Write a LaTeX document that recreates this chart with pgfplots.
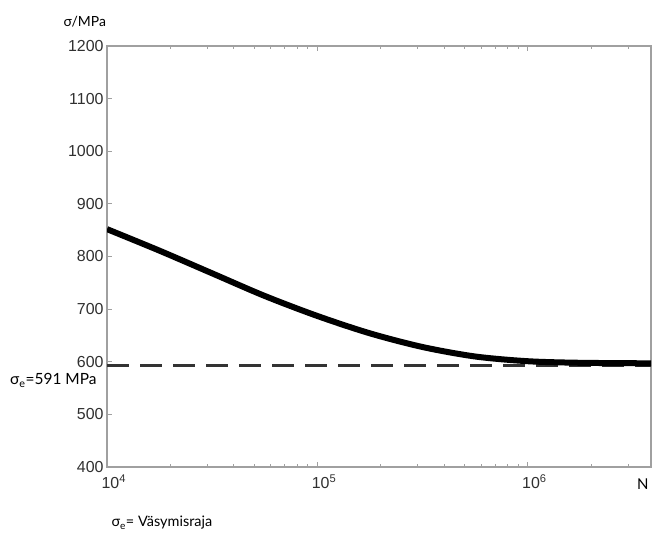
\documentclass[border=0pt]{standalone}
\usepackage{pgfplots}
\pgfplotsset{compat=1.18}
\usepackage{fontspec}
\setmainfont{Lato}
\newfontfamily\tickfont{Liberation Sans}
\definecolor{framegray}{HTML}{A0A0A0}
\definecolor{ticktext}{HTML}{303030}

\begin{document}
\begin{tikzpicture}
\begin{axis}[
  xmode=log, scale only axis, width=544bp, height=421bp,
  xmin=1e4, xmax=3.86e6, ymin=400, ymax=1200,
  ytick={400,500,...,1200},
  xtick={1e4,1e5,1e6},
  xticklabels={10\textsuperscript{4},10\textsuperscript{5},10\textsuperscript{6}},
  minor xtick={2e4,3e4,4e4,5e4,6e4,7e4,8e4,9e4,2e5,3e5,4e5,5e5,6e5,7e5,8e5,9e5,2e6,3e6},
  xtick pos=both, ytick pos=left, xticklabel pos=bottom,
  axis line style={framegray, line width=1.3bp},
  tick style={framegray, line width=0.8bp},
  major tick length=5bp, minor tick length=3bp,
  tick align=inside,
  ticklabel style={font=\tickfont\fontsize{16}{18}\selectfont, text=ticktext},
  yticklabel style={/pgf/number format/assume math mode=true, /pgf/number format/1000 sep={}},
  xticklabel style={anchor=north west, xshift=-9bp, yshift=-4bp},
]
\addplot[black!80, line width=2.4bp, dash pattern=on 22bp off 11bp] coordinates {(1e4,593) (3.86e6,593)};
\addplot[black, line width=6bp, smooth] coordinates {
  (1e4,852) (17783,811) (31623,768) (56234,725) (1e5,687)
  (177828,654) (316228,628) (562341,610) (1e6,601) (1778279,598) (3.86e6,597)};
\end{axis}
\node[anchor=base west, font=\fontsize{14}{16}\selectfont]
  at ([xshift=-47bp, yshift=19bp]current axis.north west) {σ/MPa};
\node[anchor=base east, font=\fontsize{15.5}{17}\selectfont]
  at ([xshift=-7bp, yshift=82bp]current axis.south west) {σ\textsubscript{e}=591 MPa};
\node[anchor=base east, font=\fontsize{15}{17}\selectfont]
  at ([xshift=1bp, yshift=-23bp]current axis.south east) {N};
\node[anchor=base west, font=\fontsize{14.5}{16}\selectfont]
  at ([xshift=1bp, yshift=-60bp]current axis.south west) {σ\textsubscript{e}= Väsymisraja};
\path ([xshift=-107bp, yshift=-68bp]current axis.south west) rectangle ([xshift=8bp, yshift=46bp]current axis.north east);
\end{tikzpicture}
\end{document}
